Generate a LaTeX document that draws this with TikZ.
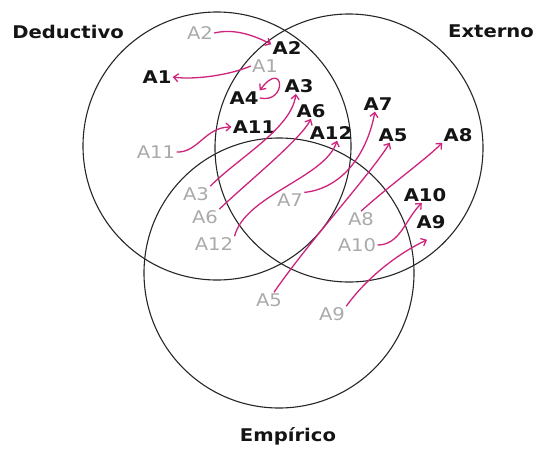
\documentclass[tikz,border=0pt]{standalone}
\usepackage{fontspec}
\setmainfont{DejaVu Sans}
\usetikzlibrary{arrows.meta}
\definecolor{arrowpink}{RGB}{205,35,125}
\definecolor{lightgray}{RGB}{170,170,170}
\definecolor{darktext}{RGB}{20,20,20}
\begin{document}
\begin{tikzpicture}[x=1pt,y=-1pt,
  circ/.style={draw=black!85,line width=1.1pt},
  lbl/.style={inner sep=1pt,xscale=1.12,font=\fontsize{17.5}{20}\selectfont},
  blk/.style={lbl,text=darktext,font=\fontsize{17.5}{20}\selectfont\bfseries},
  gry/.style={lbl,text=lightgray},
  ttl/.style={inner sep=1pt,xscale=1.12,text=darktext,font=\fontsize{17.5}{20}\selectfont\bfseries},
  arr/.style={draw=arrowpink,line width=1.3pt,-{Straight Barb[length=4.5pt,width=8pt]}}]
\useasboundingbox (0,0) rectangle (538,448);
% circles
\draw[circ] (217,146) circle (134);
\draw[circ] (349,148) circle (134);
\draw[circ] (279,273) circle (135);
% titles
\node[ttl] (tD) at (68,32) {Deductivo};
\node[ttl] (tE) at (491,31) {Externo};
\node[ttl,anchor=base] (tM) at (288,441) {Empírico};
% black labels
\node[blk] (bA2) at (287,48) {A2};
\node[blk] (bA1) at (157,77) {A1};
\node[blk] (bA4) at (244,98) {A4};
\node[blk] (bA3) at (299,86) {A3};
\node[blk] (bA6) at (311,111) {A6};
\node[blk] (bA11) at (254,127) {A11};
\node[blk] (bA12) at (331,133) {A12};
\node[blk] (bA7) at (378,104) {A7};
\node[blk] (bA5) at (393,135) {A5};
\node[blk] (bA8) at (458,135) {A8};
\node[blk] (bA10) at (425,195) {A10};
\node[blk] (bA9) at (431,222) {A9};
% gray labels
\node[gry] (gA2) at (200,33) {A2};
\node[gry] (gA1) at (265,66) {A1};
\node[gry] (gA11) at (156,152) {A11};
\node[gry] (gA3) at (196,194) {A3};
\node[gry] (gA6) at (205,217) {A6};
\node[gry] (gA12) at (214,244) {A12};
\node[gry] (gA7) at (290,200) {A7};
\node[gry] (gA8) at (361,219) {A8};
\node[gry] (gA10) at (357,245) {A10};
\node[gry] (gA5) at (269,300) {A5};
\node[gry] (gA9) at (332,314) {A9};
% arrows
\draw[arr] (gA2.east) .. controls (235,28) and (255,36) .. (bA2.165);
\draw[arr] (gA1.west) .. controls (230,75) and (195,80) .. (bA1.east);
\draw[arr] (bA4.east) .. controls (288,104) and (284,58) .. (bA4.north east);
\draw[arr] (gA11.east) .. controls (198,153) and (205,127) .. (bA11.west);
\draw[arr] (gA3.north east) .. controls (238,158) and (292,128) .. (bA3.250);
\draw[arr] (gA6.north east) .. controls (250,180) and (300,140) .. (bA6.south);
\draw[arr] (gA12.north east) .. controls (245,195) and (325,178) .. (bA12.-55);
\draw[arr] (gA7.north east) .. controls (345,188) and (368,150) .. (bA7.250);
\draw[arr] (gA5.60) .. controls (310,240) and (370,175) .. (bA5.250);
\draw[arr] (gA8.north) .. controls (390,185) and (425,160) .. (bA8.south west);
\draw[arr] (gA10.east) .. controls (400,245) and (405,220) .. (bA10.250);
\draw[arr] (gA9.north east) .. controls (365,280) and (395,255) .. ([shift={(-4,10)}]bA9.south);
\end{tikzpicture}
\end{document}
